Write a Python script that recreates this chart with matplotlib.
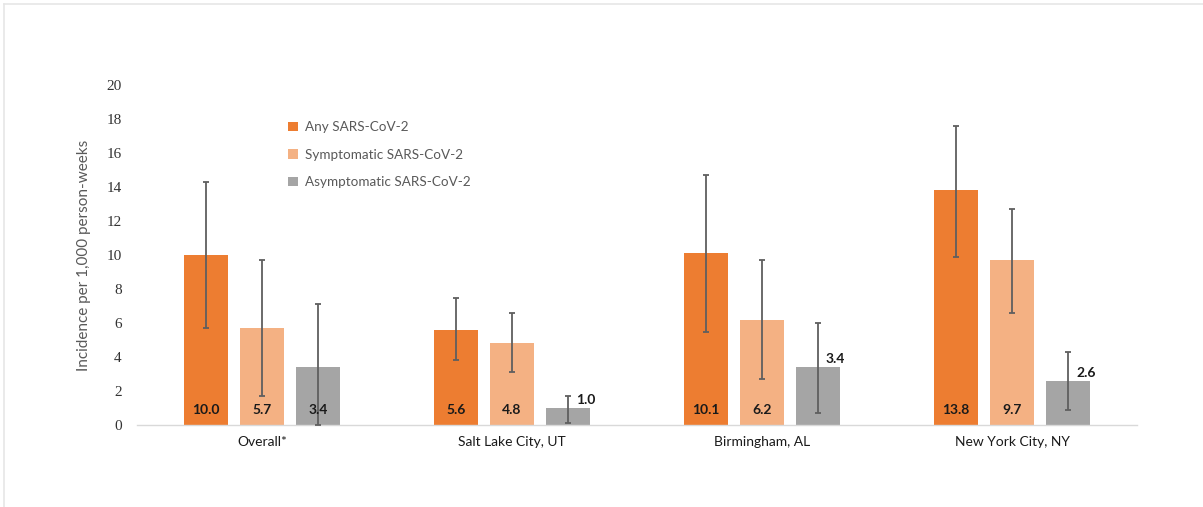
import matplotlib
matplotlib.use("Agg")
import matplotlib.pyplot as plt
import numpy as np
from matplotlib.lines import Line2D
from matplotlib.patches import Patch

# Sites and series
sites = ["Overall*", "Salt Lake City, UT", "Birmingham, AL", "New York City, NY"]
series = ["Any SARS-CoV-2", "Symptomatic SARS-CoV-2", "Asymptomatic SARS-CoV-2"]

# Incidence per 1,000 person-weeks
any_inc = [10.0, 5.6, 10.1, 13.8]
sym_inc = [5.7, 4.8, 6.2, 9.7]
asym_inc = [3.4, 1.0, 3.4, 2.6]

# 95% confidence limits (lower, upper)
any_lo = [5.7, 3.8, 5.5, 9.9]
any_hi = [14.3, 7.5, 14.7, 17.6]
sym_lo = [1.7, 3.1, 2.7, 6.6]
sym_hi = [9.7, 6.6, 9.7, 12.7]
asym_lo = [0.0, 0.1, 0.7, 0.9]
asym_hi = [7.1, 1.7, 6.0, 4.3]

y_ticks = [0, 2, 4, 6, 8, 10, 12, 14, 16, 18, 20]

colors = ["#ED7D31", "#F4B183", "#A5A5A5"]
err_color = "#5F5F5F"
# labels drawn beside the error bar instead of inside the bar: (site, series)
outside_labels = {(1, 2), (2, 2), (3, 2)}

values = [any_inc, sym_inc, asym_inc]
lows = [any_lo, sym_lo, asym_lo]
highs = [any_hi, sym_hi, asym_hi]

W, H = 1203, 507
fig = plt.figure(figsize=(W / 100, H / 100), dpi=100)
ax = fig.add_axes([137 / W, (H - 425) / H, 1000 / W, 340 / H])

x = np.arange(len(sites))
offset = 0.224
width = 0.176

for s in range(3):
    xs = x + (s - 1) * offset
    v = np.array(values[s])
    lo = v - np.array(lows[s])
    hi = np.array(highs[s]) - v
    ax.bar(xs, v, width=width, color=colors[s], zorder=2)
    ax.errorbar(xs, v, yerr=[lo, hi], fmt="none", ecolor=err_color,
                elinewidth=1.3, capsize=2.5, capthick=1.3, zorder=3)
    for i, (xi, vi) in enumerate(zip(xs, v)):
        if (i, s) in outside_labels:
            ax.annotate(f"{vi:.1f}", (xi, vi), xytext=(8, 2),
                        textcoords="offset pixels", ha="left", va="bottom",
                        fontsize=10, fontweight="bold", color="#1a1a1a",
                        family="Lato", zorder=4)
        else:
            ax.annotate(f"{vi:.1f}", (xi, 0), xytext=(0, 15),
                        textcoords="offset pixels", ha="center", va="center",
                        fontsize=10, fontweight="bold", color="#1a1a1a",
                        family="Lato", zorder=4)

ax.set_xlim(-0.5, len(sites) - 0.5)
ax.set_ylim(0, 20)
ax.set_yticks(y_ticks)
ax.set_yticklabels([str(t) for t in y_ticks], family="Liberation Serif",
                   fontsize=11, color="#333333")
ax.set_xticks(x)
ax.set_xticklabels(sites, family="Lato", fontsize=10, color="#1a1a1a")
ax.tick_params(axis="both", length=0)
ax.tick_params(axis="y", pad=11)
ax.tick_params(axis="x", pad=8)
for side in ["top", "right", "left"]:
    ax.spines[side].set_visible(False)
ax.spines["bottom"].set_color("#D9D9D9")
ax.spines["bottom"].set_linewidth(1.0)

ax.set_ylabel("Incidence per 1,000 person-weeks", family="Lato", fontsize=11,
              color="#595959", labelpad=11)

handles = [Patch(facecolor=c, edgecolor="none") for c in colors]
leg = ax.legend(handles, series, loc="upper left",
                bbox_to_anchor=((283 - 137) / 1000, (425 - 116) / 340),
                frameon=False, prop={"family": "Lato", "size": 9.7},
                handlelength=0.7, handleheight=0.7, handletextpad=0.5,
                labelspacing=1.15, borderaxespad=0)
for t in leg.get_texts():
    t.set_color("#595959")

# thin frame along the top and left edges of the figure
fig.add_artist(Line2D([3.5 / W, 1], [1 - 3.5 / H, 1 - 3.5 / H],
                      transform=fig.transFigure, color="#E6E6E6", lw=1.2))
fig.add_artist(Line2D([3.5 / W, 3.5 / W], [0, 1 - 3.5 / H],
                      transform=fig.transFigure, color="#E6E6E6", lw=1.2))

fig.savefig("out.png", dpi=100)
